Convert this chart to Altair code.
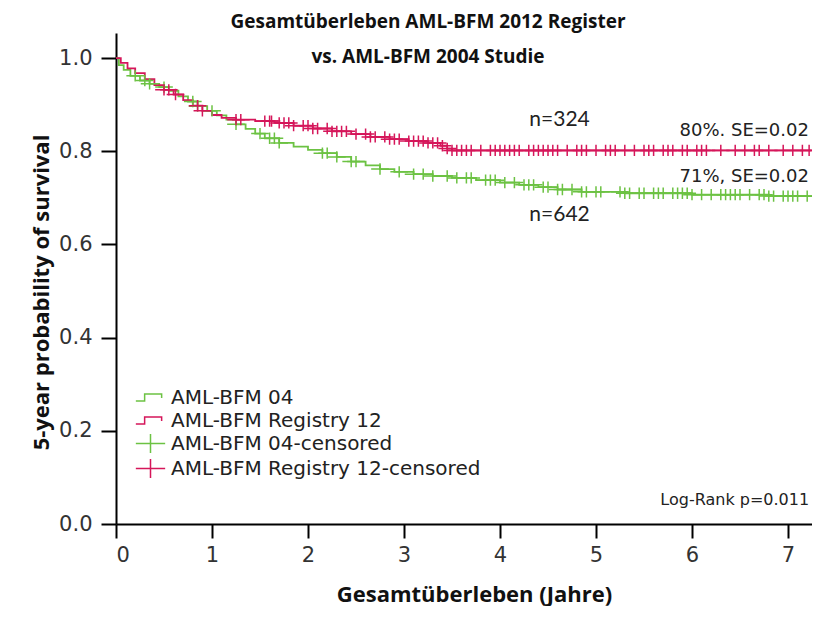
import altair as alt
import pandas as pd
import bisect

# ---- data ----
legend_labels = ["AML-BFM 04", "AML-BFM Registry 12",
                 "AML-BFM 04-censored", "AML-BFM Registry 12-censored"]

t_04 = [0, 0.03, 0.08, 0.15, 0.25, 0.35, 0.45, 0.55, 0.65, 0.75, 0.85, 0.95,
        1.05, 1.15, 1.25, 1.35, 1.45, 1.55, 1.7, 1.85, 2.0, 2.15, 2.3, 2.45,
        2.6, 2.75, 2.9, 3.1, 3.3, 3.5, 3.75, 4.0, 4.2, 4.4, 4.6, 4.85, 5.3,
        6.0, 6.8, 7.25]
s_04 = [1.0, 0.985, 0.975, 0.962, 0.952, 0.945, 0.938, 0.93, 0.918, 0.907,
        0.897, 0.887, 0.877, 0.868, 0.858, 0.848, 0.838, 0.828, 0.818, 0.81,
        0.803, 0.796, 0.788, 0.778, 0.77, 0.762, 0.756, 0.751, 0.747, 0.743,
        0.738, 0.733, 0.728, 0.723, 0.718, 0.713, 0.71, 0.707, 0.704, 0.704]

t_12 = [0, 0.05, 0.12, 0.2, 0.3, 0.4, 0.5, 0.6, 0.7, 0.8, 0.9, 1.0, 1.1,
        1.25, 1.45, 1.65, 1.85, 2.05, 2.25, 2.45, 2.65, 2.85, 3.05, 3.25,
        3.38, 3.45, 3.5, 7.25]
s_12 = [1.0, 0.99, 0.978, 0.968, 0.955, 0.942, 0.932, 0.922, 0.91, 0.898,
        0.887, 0.878, 0.872, 0.868, 0.865, 0.861, 0.855, 0.849, 0.843, 0.837,
        0.831, 0.826, 0.822, 0.818, 0.812, 0.806, 0.802, 0.802]

cens_04 = [0.2, 0.3, 0.35, 0.5, 0.8, 0.85, 1.0, 1.25, 1.5, 1.6, 1.65, 1.7,
           2.15, 2.2, 2.3, 2.45, 2.5, 2.75, 2.95, 3.1, 3.2, 3.3, 3.45, 3.55,
           3.65, 3.7, 3.85, 3.9, 3.95, 4.05, 4.15, 4.25, 4.3, 4.35, 4.45, 4.5,
           4.6, 4.65, 4.75, 4.85, 4.9, 5.0, 5.05, 5.25, 5.3, 5.35, 5.45, 5.5,
           5.6, 5.65, 5.7, 5.8, 5.85, 5.9, 5.95, 6.0, 6.1, 6.2, 6.3, 6.35,
           6.4, 6.45, 6.5, 6.6, 6.7, 6.75, 6.8, 6.85, 6.95, 7.0, 7.05, 7.1,
           7.2]
cens_12 = [0.5, 0.55, 0.62, 0.85, 0.9, 1.25, 1.3, 1.55, 1.6, 1.62, 1.7, 1.75,
           1.8, 1.85, 1.95, 2.0, 2.05, 2.1, 2.2, 2.25, 2.3, 2.35, 2.4, 2.5,
           2.6, 2.65, 2.7, 2.8, 2.85, 2.9, 2.95, 3.05, 3.1, 3.15, 3.2, 3.25,
           3.3, 3.35, 3.4, 3.45, 3.5, 3.55, 3.6, 3.65, 3.7, 3.8, 3.9, 3.95,
           4.0, 4.05, 4.1, 4.15, 4.2, 4.3, 4.35, 4.4, 4.45, 4.5, 4.55, 4.6,
           4.7, 4.8, 4.85, 4.9, 5.0, 5.1, 5.15, 5.2, 5.3, 5.4, 5.5, 5.55,
           5.6, 5.7, 5.75, 5.8, 5.9, 5.95, 6.05, 6.1, 6.15, 6.3, 6.45, 6.55,
           6.65, 6.7, 6.8, 6.95, 7.05, 7.15, 7.22]

n_labels = ["n=324", "n=642"]
n_t = [4.62, 4.62]
n_s = [0.867, 0.663]

se_labels = ["80%. SE=0.02", "71%, SE=0.02"]
se_t = [5.87, 5.87]
se_s = [0.843, 0.745]

p_label = ["Log-Rank p=0.011"]
p_t = [7.22]
p_s = [0.052]

x_ticks = [0, 1, 2, 3, 4, 5, 6, 7]
y_ticks = [0.0, 0.2, 0.4, 0.6, 0.8, 1.0]

GREEN = "#6cc243"
RED = "#d5165a"
colors = [GREEN, RED, GREEN, RED]
STEP = "M -1.25 0.3 L -0.5 0.3 L -0.5 -0.3 L 0.95 -0.3 L 0.95 0.05"
PLUS = "M -1.25 0 L 1.25 0 M 0 -0.8 L 0 0.8"

# ---- tables ----
def km_value(ts, ss, t):
    i = bisect.bisect_right(ts, t) - 1
    return ss[max(i, 0)]

line04 = pd.DataFrame({"t": t_04, "s": s_04})
line12 = pd.DataFrame({"t": t_12, "s": s_12})
cens = pd.concat([
    pd.DataFrame({"t": cens_04, "s": [km_value(t_04, s_04, v) for v in cens_04],
                  "lg": legend_labels[2]}),
    pd.DataFrame({"t": cens_12, "s": [km_value(t_12, s_12, v) for v in cens_12],
                  "lg": legend_labels[3]}),
])
ndf = pd.DataFrame({"t": n_t, "s": n_s, "txt": n_labels})
sedf = pd.DataFrame({"t": se_t, "s": se_s, "txt": se_labels})
pdf = pd.DataFrame({"t": p_t, "s": p_s, "txt": p_label})

XDOM = [0, 7.25]
YDOM = [0, 1.054]

x_enc = alt.X("t:Q", scale=alt.Scale(domain=XDOM, nice=False, zero=False),
              axis=alt.Axis(values=x_ticks, format="d", title="Gesamtüberleben (Jahre)",
                            tickSize=14, labelPadding=6,
                            titleX=358, titleY=77, titleAlign="center",
                            titleBaseline="alphabetic"))
y_enc = alt.Y("s:Q", scale=alt.Scale(domain=YDOM, nice=False),
              axis=alt.Axis(values=y_ticks, format=".1f",
                            title="5-year probability of survival",
                            tickSize=15, labelPadding=9,
                            titleX=-75, titleY=259, titleAlign="center",
                            titleBaseline="middle", titleAngle=270))

line_04 = alt.Chart(line04).mark_line(interpolate="step-after", strokeWidth=1.8,
                                      color=GREEN).encode(x=x_enc, y=y_enc)
line_12 = alt.Chart(line12).mark_line(interpolate="step-after", strokeWidth=1.8,
                                      color=RED).encode(x="t:Q", y="s:Q")

leg = alt.Legend(title=None, orient="none", legendX=22, legendY=352,
                 labelFont="DejaVu Sans", labelFontSize=20, labelLimit=500,
                 labelColor="#222222", symbolSize=550,
                 symbolStrokeWidth=1.5, labelOffset=8,
                 rowPadding=0, padding=0, symbolOpacity=1)

cens_layer = alt.Chart(cens).mark_point(filled=False, strokeWidth=1.5, size=200, opacity=1).encode(
    x="t:Q", y="s:Q",
    color=alt.Color("lg:N", scale=alt.Scale(domain=legend_labels, range=colors), legend=leg),
    shape=alt.Shape("lg:N", scale=alt.Scale(domain=legend_labels,
                                            range=[STEP, STEP, PLUS, PLUS]), legend=leg),
)

n_layer = alt.Chart(ndf).mark_text(font="Lato", fontSize=21, color="#222222",
                                   align="center", baseline="middle").encode(
    x="t:Q", y="s:Q", text="txt:N")
se_layer = alt.Chart(sedf).mark_text(font="DejaVu Sans", fontSize=18, color="#222222",
                                     align="left", baseline="middle").encode(
    x="t:Q", y="s:Q", text="txt:N")
p_layer = alt.Chart(pdf).mark_text(font="DejaVu Sans", fontSize=16, color="#222222",
                                   align="right", baseline="middle").encode(
    x="t:Q", y="s:Q", text="txt:N")

chart = alt.layer(line_04, line_12, cens_layer, n_layer, se_layer, p_layer).properties(
    width=696, height=491,
    autosize=alt.AutoSizeParams(type="none"),
    padding={"left": 108, "top": 25, "right": 0, "bottom": 82},
    title=alt.TitleParams(
        text=["Gesamtüberleben AML-BFM 2012 Register", "vs. AML-BFM 2004 Studie"],
        font="Open Sans", fontWeight="bold", fontSize=19, color="#111111",
        anchor="middle", dx=-36, offset=-34, lineHeight=35,
    ),
).configure_view(stroke=None).configure_axis(
    grid=False, domainColor="black", domainWidth=2, tickColor="black", tickWidth=2,
    labelFont="DejaVu Sans", labelFontSize=21, labelColor="#333333",
    titleFont="Open Sans", titleFontWeight="bold", titleFontSize=22, titleColor="#111111",
)

chart.save("out.html", embed_options={"renderer": "svg", "actions": False})
